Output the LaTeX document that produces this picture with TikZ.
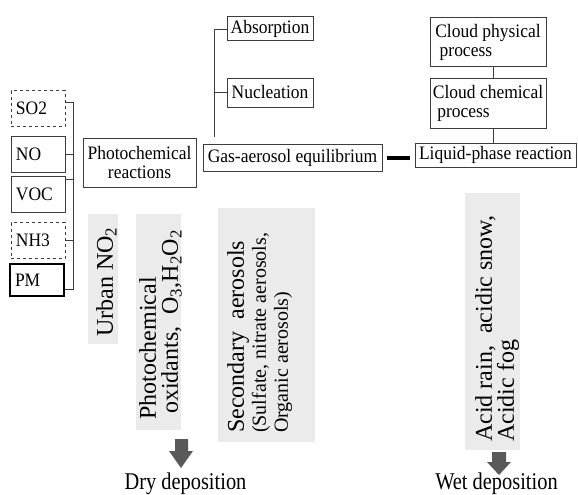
\documentclass[tikz,border=0pt]{standalone}
\usepackage{fontspec}
\setmainfont{Liberation Serif}
\newfontfamily\boxfont{Liberation Serif}[FakeStretch=0.92]
\newfontfamily\depfont{Liberation Serif}[FakeStretch=0.85]

\definecolor{boxline}{HTML}{3C3C3C}
\definecolor{panelgray}{HTML}{EBEBEB}
\definecolor{arrowgray}{HTML}{595959}

\begin{document}
\begin{tikzpicture}[x=1pt, y=-1pt,
    box/.style={draw=boxline, line width=1pt, inner sep=0pt, font=\boxfont\fontsize{19}{19}\selectfont},
    species/.style={box, minimum width=54pt, minimum height=36pt, text width=44pt, align=left},
    panel/.style={fill=panelgray, inner sep=0pt},
    vtext/.style={rotate=90, anchor=north west, align=left, inner sep=0pt, font=\fontsize{24}{22}\selectfont},
    deptext/.style={anchor=base, font=\depfont\fontsize{24}{24}\selectfont},
    link/.style={draw=boxline, line width=1pt}]
            \useasboundingbox (0,0) rectangle (578,495);

            % Precursors
            \node[species, dashed] (so2) at (38,108.5) {SO2};
            \node[species] (no) at (38,154) {NO};
            \node[species] (voc) at (38,194) {VOC};
            \node[species, dashed] (nh3) at (38,240.5) {NH3};
            \node[species, draw=black, line width=1.8pt, minimum height=32pt] (pm) at (37,280) {PM};

            % Bracket joining the precursors
            \coordinate (brtop) at (73,102);
            \coordinate (brbot) at (73,289);
            \coordinate (vocpin) at ([yshift=-4pt]voc.north east);
            \draw[link] (so2.east |- brtop) -- (brtop) -- (brbot) -- (pm.east |- brbot);
            \draw[link] (no.east) -- (no.east -| brtop);
            \draw[link] (vocpin) -- (vocpin -| brtop);
            \draw[link] (nh3.east) -- (nh3.east -| brtop);

            % Gas phase
            \node[box, minimum width=113pt, minimum height=49pt, align=center] (photo) at (139.5,162.5) {Photochemical\\reactions};
            \node[box, minimum width=179pt, minimum height=27pt] (gas) at (292.5,157.5) {Gas-aerosol equilibrium};
            \node[box, minimum width=86pt, minimum height=24pt] (absorb) at (270,29) {Absorption};
            \node[box, minimum width=86pt, minimum height=29pt] (nucl) at (270,92.5) {Nucleation};
            \coordinate (trunk) at (214,30);
            \coordinate (trunkend) at (214,137);
            \draw[link] (trunkend) -- (trunk) -- (absorb.west |- trunk);
            \draw[link] (nucl.west) -- (nucl.west -| trunk);

            % Liquid phase
            \node[box, minimum width=161pt, minimum height=24pt] (liquid) at (495.5,155) {Liquid-phase reaction};
            \node[box, minimum width=116pt, minimum height=49pt, align=left] (cphys) at (488,42.5) {Cloud physical\\\ process};
            \node[box, minimum width=116pt, minimum height=50pt, align=left] (cchem) at (488,103) {Cloud chemical\\\ process};
            \coordinate (cloudaxis) at (493,0);
            \draw[link] (cphys.south -| cloudaxis) -- (cchem.north -| cloudaxis);
            \draw[link] (cchem.south -| cloudaxis) -- (liquid.north -| cloudaxis);

            % Thick link between the two phases
            \coordinate (linkl) at ([xshift=4pt]gas.east);
            \draw[line width=4pt, shorten >=5pt] (linkl) -- (linkl -| liquid.west);

            % Products
            \node[panel, minimum width=30pt, minimum height=130pt] (urban) at (103,279) {};
            \node[vtext] (urbantext) at (96,337) {Urban NO\textsubscript{2}};
            \node[panel, minimum width=45pt, minimum height=216pt] (oxid) at (158.5,322) {};
            \node[vtext] (oxidtext) at (139,420) {Photochemical\\\ oxidants,\ \ O\textsubscript{3},H\textsubscript{2}O\textsubscript{2}};
            \node[panel, minimum width=97pt, minimum height=234pt] (sec) at (266.5,325) {};
            \node[vtext] (sectext) at (227,433) {Secondary\ \ aerosols\\{\fontsize{20}{21}\selectfont(Sulfate, nitrate aerosols,}\\{\fontsize{20}{21}\selectfont Organic aerosols)}};
            \node[panel, minimum width=55pt, minimum height=257pt] (acid) at (492.5,321.5) {};
            \node[vtext] (acidtext) at (475,442) {Acid rain,\ \ acidic snow,\\Acidic fog};

            % Deposition
            \fill[arrowgray] (175,439) -- (188,439) -- (188,451) -- (193,451) -- (181,468) -- (169,451) -- (175,451) -- cycle;
            \fill[arrowgray] (492,452) -- (506,452) -- (506,462) -- (511,462) -- (499,475) -- (487,462) -- (492,462) -- cycle;
            \node[deptext] (dry) at (185.5,489) {Dry deposition};
            \node[deptext] (wet) at (496.5,489) {Wet deposition};
        \end{tikzpicture}
\end{document}
